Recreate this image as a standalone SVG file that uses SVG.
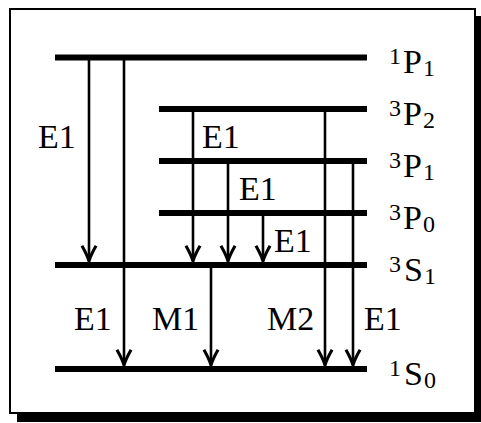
<svg xmlns="http://www.w3.org/2000/svg" width="481" height="423" viewBox="0 0 481 423">
<style>
.lvl{stroke:#000;stroke-width:6;fill:none}
.arr{stroke:#000;stroke-width:2.6;fill:none}
.t{font-family:"Liberation Serif","Times New Roman",serif;font-size:34px;fill:#000}
.s{font-family:"Liberation Serif","Times New Roman",serif;font-size:24px;fill:#000}
</style>
<defs>
<marker id="ah" markerUnits="userSpaceOnUse" markerWidth="20" markerHeight="20" viewBox="-15 -8 17 16" refX="0" refY="0" orient="auto">
<path d="M-13,-6 Q-5,-1.5 0,0 Q-5,1.5 -13,6" stroke="#000" stroke-width="2.6" fill="none"/>
</marker>
</defs>
<rect x="17" y="16" width="464" height="406" fill="#000"/>
<rect x="10" y="9" width="465" height="404" fill="#fff" stroke="#000" stroke-width="2"/>
<g id="level-1P1"><line class="lvl" x1="55" y1="57.5" x2="367" y2="57.5"/>
<text class="s" x="389" y="64">1</text><text class="t" x="403" y="73">P</text><text class="s" x="423" y="76">1</text></g>
<g id="level-3P2"><line class="lvl" x1="159" y1="109" x2="367" y2="109"/>
<text class="s" x="389" y="115.5">3</text><text class="t" x="403" y="124.5">P</text><text class="s" x="423" y="127.5">2</text></g>
<g id="level-3P1"><line class="lvl" x1="159" y1="161" x2="367" y2="161"/>
<text class="s" x="389" y="167.5">3</text><text class="t" x="403" y="176.5">P</text><text class="s" x="423" y="179.5">1</text></g>
<g id="level-3P0"><line class="lvl" x1="159" y1="213" x2="367" y2="213"/>
<text class="s" x="389" y="219.5">3</text><text class="t" x="403" y="228.5">P</text><text class="s" x="423" y="231.5">0</text></g>
<g id="level-3S1"><line class="lvl" x1="55" y1="265" x2="367" y2="265"/>
<text class="s" x="389" y="271.5">3</text><text class="t" x="404" y="280.5">S</text><text class="s" x="424" y="283.5">1</text></g>
<g id="level-1S0"><line class="lvl" x1="55" y1="369" x2="367" y2="369"/>
<text class="s" x="389" y="375.5">1</text><text class="t" x="404" y="384.5">S</text><text class="s" x="424" y="387.5">0</text></g>
<g id="connectors">
<line class="arr" x1="89" y1="60" x2="89" y2="261" marker-end="url(#ah)"/>
<line class="arr" x1="124" y1="60" x2="124" y2="365" marker-end="url(#ah)"/>
<line class="arr" x1="193" y1="111" x2="193" y2="261" marker-end="url(#ah)"/>
<line class="arr" x1="228" y1="163" x2="228" y2="261" marker-end="url(#ah)"/>
<line class="arr" x1="263" y1="215" x2="263" y2="261" marker-end="url(#ah)"/>
<line class="arr" x1="325" y1="111" x2="325" y2="365" marker-end="url(#ah)"/>
<line class="arr" x1="353" y1="163" x2="353" y2="365" marker-end="url(#ah)"/>
<line class="arr" x1="211" y1="267" x2="211" y2="365" marker-end="url(#ah)"/>
<text class="t" x="38" y="148">E1</text>
<text class="t" x="202" y="148">E1</text>
<text class="t" x="239" y="200">E1</text>
<text class="t" x="274" y="252">E1</text>
<text class="t" x="74" y="330">E1</text>
<text class="t" x="152" y="330">M1</text>
<text class="t" x="267" y="330">M2</text>
<text class="t" x="364" y="330">E1</text>
</g>
</svg>
